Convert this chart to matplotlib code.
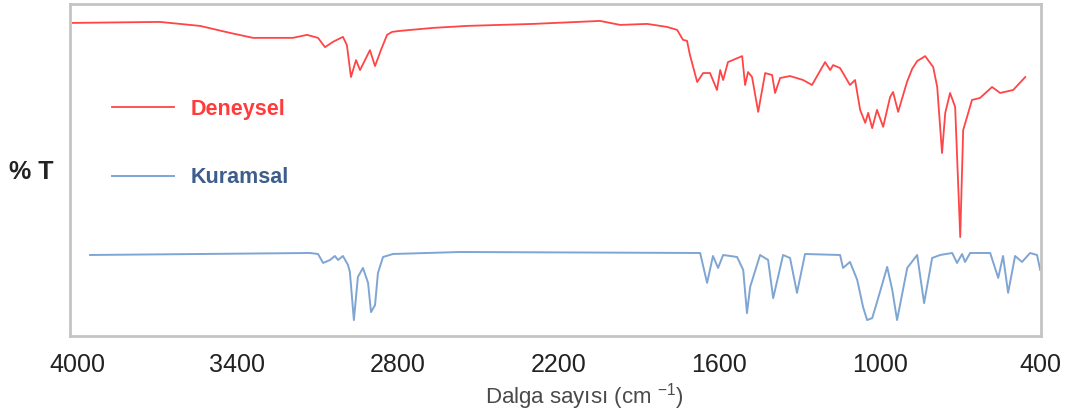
import matplotlib
matplotlib.use("Agg")
import matplotlib.pyplot as plt

plt.rcParams['font.family'] = ['Liberation Sans', 'DejaVu Sans']
plt.rcParams['mathtext.fontset'] = 'custom'
plt.rcParams['mathtext.rm'] = 'Liberation Sans'
plt.rcParams['mathtext.it'] = 'Liberation Sans'

exp_wn = [4015, 3690, 3540, 3428, 3342, 3193, 3140, 3099, 3073, 3043, 3006, 2991,
          2976, 2957, 2942, 2905, 2886, 2864, 2841, 2822, 2793, 2669, 2542, 2295, 2045,
          1970, 1869, 1795, 1757, 1735, 1720, 1709, 1682, 1660, 1634, 1608, 1596,
          1585, 1567, 1514, 1503, 1492, 1477, 1454, 1428, 1402, 1391, 1372, 1335,
          1286, 1253, 1204, 1185, 1174, 1148, 1111, 1092, 1073, 1054, 1043, 1028,
          1010, 987, 961, 950, 931, 898, 879, 860, 830, 800, 785, 767, 755, 737, 718,
          699, 688, 655, 625, 580, 550, 501, 456]
exp_t = [94.3, 94.6, 93.4, 91.3, 89.8, 89.8, 90.7, 89.8, 87.0, 88.6, 90.1, 87.6,
         78.0, 83.1, 80.1, 86.1, 81.3, 86.1, 90.7, 91.6, 91.9, 92.8, 93.4, 94.0, 94.9,
         93.7, 94.0, 93.1, 92.2, 89.2, 88.9, 84.6, 76.5, 79.2, 79.2, 74.1, 80.1,
         77.1, 82.5, 84.3, 75.6, 79.5, 78.0, 67.5, 79.2, 78.6, 73.2, 77.7, 78.3,
         77.1, 75.6, 82.5, 80.1, 81.6, 80.7, 75.6, 77.1, 68.1, 64.2, 67.2, 62.6,
         68.1, 63.0, 72.0, 73.5, 67.5, 76.5, 80.4, 82.8, 84.3, 81.0, 75.0, 55.1, 67.2,
         73.2, 69.0, 29.8, 62.0, 71.1, 71.7, 75.0, 73.2, 74.1, 78.0]

# kuramsal (theoretical) spectrum
calc_wn = [3951, 3129, 3099, 3080, 3054, 3036, 3024, 3006, 2987, 2980, 2965, 2950,
           2931, 2912, 2901, 2886, 2875, 2856, 2819, 2568, 1671, 1645, 1623, 1604,
           1585, 1533, 1510, 1496, 1484, 1447, 1417, 1398, 1361, 1335, 1309, 1279,
           1148, 1137, 1111, 1084, 1062, 1047, 1028, 1010, 972, 953, 935, 897, 860,
           834, 804, 774, 729, 711, 692, 681, 662, 587, 557, 539, 520, 494, 468,
           438, 412, 400]
calc_t = [24.4, 25.0, 24.7, 22.0, 22.9, 24.1, 22.9, 24.1, 21.4, 19.3, 4.8, 17.8,
          20.5, 16.0, 7.2, 9.3, 19.0, 23.8, 24.7, 25.3, 25.0, 16.0, 24.1, 20.5,
          24.4, 23.8, 19.9, 6.9, 14.8, 24.4, 22.9, 11.4, 24.4, 23.5, 13.0, 24.7,
          24.4, 20.5, 22.3, 16.9, 8.7, 4.8, 5.4, 10.2, 20.8, 13.9, 4.8, 20.5, 24.4,
          9.9, 23.5, 24.4, 25.0, 22.0, 24.7, 22.3, 25.0, 25.0, 17.5, 24.1, 13.0,
          24.1, 22.3, 25.0, 24.4, 19.9]

ticks = [4000, 3400, 2800, 2200, 1600, 1000, 400]

fig = plt.figure(figsize=(10.65, 4.2), dpi=100)
ax = fig.add_axes([0.0657, 0.2, 0.9118, 0.7905])

l1, = ax.plot(exp_wn, exp_t, color='#ff4545', lw=1.3, label='Deneysel')
l2, = ax.plot(calc_wn, calc_t, color='#7fa5d3', lw=1.4, label='Kuramsal')

ax.set_xlim(4026, 397)
ax.set_ylim(0, 100)
ax.set_xticks(ticks)
ax.set_xticklabels([str(t) for t in ticks])
ax.set_yticks([])
ax.tick_params(axis='x', length=0, pad=12, labelsize=18, labelcolor='#222222')
for s in ax.spines.values():
    s.set_color('#c4c4c4')
    s.set_linewidth(2)

fig.legend(handles=[l1, l2], loc='upper left', bbox_to_anchor=(0.105, 0.765),
           frameon=False, borderpad=0, borderaxespad=0, handlelength=2.9,
           handletextpad=0.75, labelspacing=2.2,
           prop={'size': 15.5, 'weight': 'bold'},
           labelcolor=['#ff3b3b', '#3d5d8c'])

fig.text(0.008, 0.590, '% T', fontsize=18, fontweight='bold', color='#222222',
         ha='left', va='center')
fig.text(0.549, 0.055, r'Dalga sayısı (cm $^{-1}$)', fontsize=16, color='#4a4a4a',
         ha='center', va='center')

fig.savefig('out.png', dpi=100)
